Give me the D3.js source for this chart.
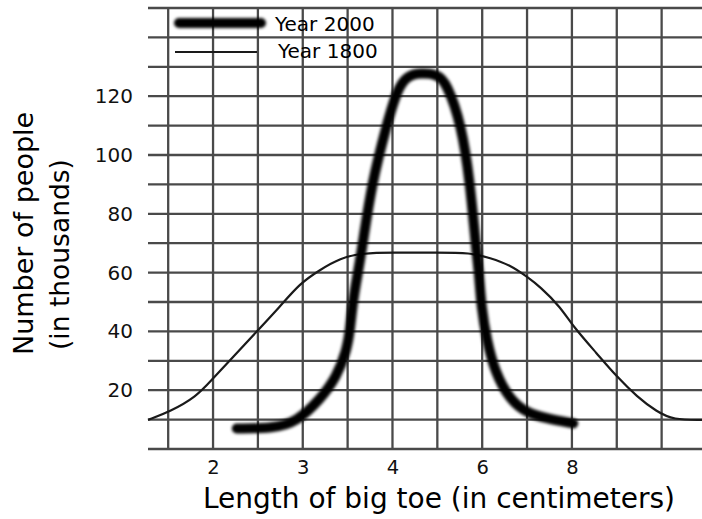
<!DOCTYPE html>
<html>
<head>
<meta charset="utf-8">
<script src="https://cdn.jsdelivr.net/npm/d3@7"></script>
<style>
  body { margin: 0; background: #fff; }
  svg { display: block; font-family: "DejaVu Sans", sans-serif; }
</style>
</head>
<body>
<div id="chart"></div>
<script>
// data (x = grid column, y = thousands of people)
const toe1800 = [0.55, 1.04, 1.63, 1.97, 2.45, 2.97, 3.49, 3.94, 4.38, 4.83, 5.34, 6.0, 7.0, 7.73, 8.18, 8.62, 9.0, 9.29, 9.74, 10.03, 10.55, 11.0, 11.45, 11.89, 12.26, 12.9];
const people1800 = [9.9, 12.7, 17.8, 23.5, 31.4, 39.9, 48.4, 56.4, 60.9, 64.9, 66.7, 66.8, 66.8, 66.8, 65.0, 62.6, 58.6, 55.2, 48.4, 41.6, 32.6, 24.6, 17.8, 12.7, 9.9, 9.9];

const toe2000 = [2.53, 3.34, 3.87, 4.38, 4.76, 4.98, 5.05, 5.12, 5.23, 5.34, 5.54, 5.87, 6.10, 6.32, 6.61, 6.99, 7.21, 7.54, 7.73, 7.85, 7.93, 7.98, 8.10, 8.29, 8.62, 9.0, 9.44, 10.03];
const people2000 = [7, 7, 9.3, 16.7, 24.6, 33.7, 40, 50.7, 59.9, 70.1, 90.5, 110.2, 122.1, 126.9, 127.9, 127.6, 124.5, 110.2, 90.5, 70.1, 59.9, 48.3, 37.1, 25.9, 16.7, 12.2, 10.4, 8.7];

const xTickPos = [2, 4, 6, 8, 10];
const xTickLabels = ['2', '3', '4', '6', '8'];
const yTicks = [20, 40, 60, 80, 100, 120];
const seriesNames = ['Year 2000', 'Year 1800'];

const width = 702, height = 519;
const margin = { top: 8, right: 0, bottom: 70, left: 148 };
const boundW = width - margin.left - margin.right;
const boundH = height - margin.top - margin.bottom;

const svg = d3.select('#chart').append('svg')
    .attr('width', width)
    .attr('height', height);

// soft marker-pen look for the thick line
const blur = svg.append('defs').append('filter')
    .attr('id', 'soft')
    .attr('filterUnits', 'userSpaceOnUse')
    .attr('x', 0).attr('y', 0)
    .attr('width', width).attr('height', height);
blur.append('feGaussianBlur').attr('stdDeviation', 1.4);

const bounds = svg.append('g')
    .attr('transform', `translate(${margin.left},${margin.top})`);

const xScale = d3.scaleLinear()
    .domain([0.55, 12.9])
    .range([0, boundW]);

const yScale = d3.scaleLinear()
    .domain([0, 150])
    .range([boundH, 0]);

// grid
bounds.append('g')
    .selectAll('line')
    .data(d3.range(0, 151, 10))
    .join('line')
    .attr('x1', 0)
    .attr('x2', boundW)
    .attr('y1', d => yScale(d))
    .attr('y2', d => yScale(d))
    .attr('stroke', '#4a4a4a')
    .attr('stroke-width', 2.3);

bounds.append('g')
    .selectAll('line')
    .data(d3.range(1, 13))
    .join('line')
    .attr('x1', d => xScale(d))
    .attr('x2', d => xScale(d))
    .attr('y1', yScale(150))
    .attr('y2', yScale(0))
    .attr('stroke', '#4a4a4a')
    .attr('stroke-width', 2.3);

// axes (labels only)
const yAxisGenerator = d3.axisLeft(yScale)
    .tickValues(yTicks)
    .tickSize(0)
    .tickPadding(15);

const yAxis = bounds.append('g').call(yAxisGenerator);
yAxis.select('.domain').remove();
yAxis.selectAll('text')
    .style('font-size', '20px')
    .style('font-family', '"DejaVu Sans", sans-serif')
    .attr('fill', '#111');

const xAxisGenerator = d3.axisBottom(xScale)
    .tickValues(xTickPos)
    .tickFormat((d, i) => xTickLabels[i])
    .tickSize(0)
    .tickPadding(11);

const xAxis = bounds.append('g')
    .attr('transform', `translate(0,${boundH})`)
    .call(xAxisGenerator);
xAxis.select('.domain').remove();
xAxis.selectAll('text')
    .style('font-size', '19.5px')
    .style('font-family', '"DejaVu Sans", sans-serif')
    .attr('fill', '#111');

// lines
const lineGen = d3.line()
    .curve(d3.curveBasis)
    .x(d => xScale(d[0]))
    .y(d => yScale(d[1]));

bounds.append('path')
    .attr('d', lineGen(d3.zip(toe1800, people1800)))
    .attr('fill', 'none')
    .attr('stroke', '#1a1a1a')
    .attr('stroke-width', 2.2);

bounds.append('path')
    .attr('d', lineGen(d3.zip(toe2000, people2000)))
    .attr('fill', 'none')
    .attr('stroke', '#000')
    .attr('stroke-width', 10)
    .attr('stroke-linecap', 'round')
    .attr('stroke-linejoin', 'round')
    .attr('filter', 'url(#soft)');

// legend
const legend = svg.append('g');
legend.append('line')
    .attr('x1', 179).attr('x2', 261)
    .attr('y1', 23).attr('y2', 23)
    .attr('stroke', '#000')
    .attr('stroke-width', 10)
    .attr('stroke-linecap', 'round')
    .attr('filter', 'url(#soft)');
legend.append('line')
    .attr('x1', 175).attr('x2', 257)
    .attr('y1', 52).attr('y2', 52)
    .attr('stroke', '#1a1a1a')
    .attr('stroke-width', 2.2);
legend.append('text')
    .attr('x', 275).attr('y', 31)
    .text(seriesNames[0])
    .style('font-size', '20px');
legend.append('text')
    .attr('x', 278).attr('y', 58)
    .text(seriesNames[1])
    .style('font-size', '20px');

// titles
svg.append('text')
    .attr('x', 439)
    .attr('y', 508)
    .attr('text-anchor', 'middle')
    .style('font-size', '28px')
    .text('Length of big toe (in centimeters)');

svg.append('text')
    .attr('transform', 'translate(33,355) rotate(-90)')
    .style('font-size', '27px')
    .text('Number of people');

svg.append('text')
    .attr('transform', 'translate(69,350) rotate(-90)')
    .style('font-size', '26.5px')
    .text('(in thousands)');
</script>
</body>
</html>
